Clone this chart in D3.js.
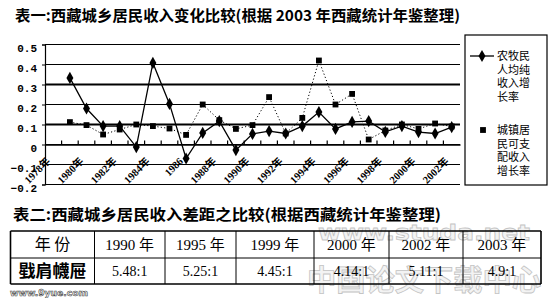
<!DOCTYPE html>
<html>
<head>
<meta charset="utf-8">
<script src="https://cdn.jsdelivr.net/npm/d3@7"></script>
<style>
  body { margin: 0; background: #fff; }
  svg { display: block; }
</style>
</head>
<body>
<div id="chart"></div>
<script>
// chart data
const years = ["1978","1979","1980","1981","1982","1983","1984","1985","1986","1987","1988","1989",
  "1990","1991","1992","1993","1994","1995","1996","1997","1998","1999","2000","2001","2002"];
const tickLabels = ["1978年","1980年","1982年","1984年","1986","1988年","1990年","1992年",
  "1994年","1996年","1998年","2000年","2002年"];
const farmGrowth = [null,0.333,0.18,0.092,0.092,-0.013,0.408,0.203,-0.07,0.058,0.117,-0.028,
  0.053,0.067,0.055,0.092,0.162,0.078,0.113,0.117,0.063,0.092,0.062,0.055,0.087];
const urbanGrowth = [null,0.112,0.097,0.05,0.075,0.1,0.092,0.08,0.048,0.2,0.122,0.078,
  0.097,0.237,0.055,0.133,0.42,0.2,0.253,0.025,0.07,0.1,0.078,0.105,0.09];
const yTicks = [0.5,0.4,0.3,0.2,0.1,0,-0.1,-0.2];
const farmLegend = ["农牧民","人均纯","收入增","长率"];
const urbanLegend = ["城镇居","民可支","配收入","增长率"];

// table 2
const tableYears = ["1990 年","1995 年","1999 年","2000 年","2002 年","2003 年"];
const tableRatios = ["5.48:1","5.25:1","4.45:1","4.14:1","5.11:1","4.9:1"];

const W = 550, H = 298;
const svg = d3.select("#chart").append("svg").attr("width", W).attr("height", H);

const cjk = "'Noto Sans CJK SC', sans-serif";
const serif = "'Liberation Serif', 'Noto Sans CJK SC', serif";

// title 1
svg.append("text")
  .attr("x", 15).attr("y", 21)
  .attr("textLength", 445).attr("lengthAdjust", "spacingAndGlyphs")
  .style("font-family", cjk).style("font-size", "15px").style("font-weight", "bold")
  .text("表一:西藏城乡居民收入变化比较(根据 2003 年西藏统计年鉴整理)");

// plot area
var plot = { left: 45, right: 460, top: 44.5, bottom: 184.5 };
var x = d3.scaleBand().domain(years).range([plot.left, plot.right]);
var y = d3.scaleLinear().domain([-0.2, 0.5]).range([plot.bottom, plot.top]);
var cx = function (d) { return x(d) + x.bandwidth() / 2; };

// grid lines
svg.append("g").selectAll("line")
  .data(yTicks)
  .enter().append("line")
  .attr("x1", plot.left).attr("x2", plot.right)
  .attr("y1", d => y(d)).attr("y2", d => y(d))
  .attr("stroke", "#000")
  .attr("stroke-width", d => (Math.abs(d - 0.3) < 1e-9 || Math.abs(d - 0.1) < 1e-9) ? 2 : 1.2);

// y axis
var yAxis = svg.append("g")
  .attr("transform", "translate(" + plot.left + ",0)")
  .call(d3.axisLeft(y).tickValues(yTicks).tickSize(3).tickFormat(d => d === 0 ? "0" : d3.format(".1f")(d)));
yAxis.select(".domain").attr("stroke", "#000").attr("stroke-width", 1.2);
yAxis.selectAll("text")
  .attr("x", -8).attr("dy", "0.6em")
  .style("font-family", "'Liberation Mono', monospace").style("font-size", "11px").style("font-weight", "bold");

// x axis on the zero line
var xAxis = svg.append("g")
  .attr("transform", "translate(0," + y(0) + ")")
  .call(d3.axisBottom(x)
    .tickValues(years.filter((d, i) => i % 2 === 0))
    .tickFormat((d, i) => tickLabels[i])
    .tickSize(0));
xAxis.select(".domain").attr("stroke", "#000").attr("stroke-width", 1.5);
xAxis.selectAll("text")
  .attr("x", -14).attr("y", 7).attr("dy", "0.35em")
  .attr("transform", "rotate(-45)")
  .style("text-anchor", "end")
  .style("font-family", serif).style("font-size", "10.5px").style("font-weight", "bold");

// tick marks between categories, pointing up
svg.append("g").selectAll("line")
  .data(years.slice(1))
  .enter().append("line")
  .attr("x1", d => x(d)).attr("x2", d => x(d))
  .attr("y1", y(0)).attr("y2", y(0) - 4)
  .attr("stroke", "#000").attr("stroke-width", 1.2);

// series
var farmPts = years.map((d, i) => ({ year: d, v: farmGrowth[i] })).filter(d => d.v !== null);
var urbanPts = years.map((d, i) => ({ year: d, v: urbanGrowth[i] })).filter(d => d.v !== null);
var line = d3.line().x(d => cx(d.year)).y(d => y(d.v));

svg.append("path").datum(urbanPts)
  .attr("d", line).attr("fill", "none")
  .attr("stroke", "#000").attr("stroke-width", 1).attr("stroke-dasharray", "1.2,2.2");
svg.append("path").datum(farmPts)
  .attr("d", line).attr("fill", "none")
  .attr("stroke", "#000").attr("stroke-width", 1.3);

var square = d3.symbol().type(d3.symbolSquare).size(34);
var diamond = d3.symbol().type(d3.symbolDiamond).size(42);

svg.append("g").selectAll("path")
  .data(urbanPts)
  .enter().append("path")
  .attr("d", square)
  .attr("transform", d => "translate(" + cx(d.year) + "," + y(d.v) + ")")
  .attr("fill", "#000");
svg.append("g").selectAll("path")
  .data(farmPts)
  .enter().append("path")
  .attr("d", diamond)
  .attr("transform", d => "translate(" + cx(d.year) + "," + y(d.v) + ")")
  .attr("fill", "#000");

// legend
var legend = svg.append("g");
legend.append("rect")
  .attr("x", 465).attr("y", 35).attr("width", 82).attr("height", 150)
  .attr("fill", "#fff").attr("stroke", "#000").attr("stroke-width", 1.2);
legend.append("line")
  .attr("x1", 470).attr("x2", 494).attr("y1", 56).attr("y2", 56)
  .attr("stroke", "#000").attr("stroke-width", 1.3);
legend.append("path").attr("d", diamond).attr("transform", "translate(482,56)");
legend.append("path").attr("d", square).attr("transform", "translate(483,130)");
legend.selectAll("text.farm")
  .data(farmLegend)
  .enter().append("text")
  .attr("class", "farm")
  .attr("x", 497).attr("y", (d, i) => 60 + i * 13.5)
  .style("font-family", cjk).style("font-size", "11px")
  .text(d => d);
legend.selectAll("text.urban")
  .data(urbanLegend)
  .enter().append("text")
  .attr("class", "urban")
  .attr("x", 497).attr("y", (d, i) => 134 + i * 13.5)
  .style("font-family", cjk).style("font-size", "11px")
  .text(d => d);

// title 2
svg.append("text")
  .attr("x", 13).attr("y", 220)
  .attr("textLength", 428).attr("lengthAdjust", "spacingAndGlyphs")
  .style("font-family", cjk).style("font-size", "15px").style("font-weight", "bold")
  .text("表二:西藏城乡居民收入差距之比较(根据西藏统计年鉴整理)");

// watermark
svg.append("text")
  .attr("x", 318).attr("y", 240)
  .attr("textLength", 212).attr("lengthAdjust", "spacingAndGlyphs")
  .style("font-family", "'DejaVu Sans', sans-serif").style("font-size", "22px").style("font-weight", "bold")
  .attr("fill", "#f3f3f3").attr("stroke", "#c4c4c4").attr("stroke-width", 0.8)
  .text("www.studa.net");
svg.append("text")
  .attr("x", 307).attr("y", 291)
  .attr("textLength", 234).attr("lengthAdjust", "spacingAndGlyphs")
  .style("font-family", cjk).style("font-size", "29px").style("font-weight", "bold")
  .attr("fill", "#f3f3f3").attr("stroke", "#c4c4c4").attr("stroke-width", 0.8)
  .text("中国论文下载中心");

// table
var cols = [10.5, 94.5, 165, 236, 314, 389, 463, 541];
var rows = [231, 258, 284];
var table = svg.append("g");
rows.forEach(function (r) {
  table.append("line").attr("x1", cols[0]).attr("x2", cols[cols.length - 1])
    .attr("y1", r).attr("y2", r).attr("stroke", "#000").attr("stroke-width", r === rows[1] ? 1 : 1.6);
});
cols.forEach(function (c, i) {
  table.append("line").attr("x1", c).attr("x2", c)
    .attr("y1", rows[0]).attr("y2", rows[2]).attr("stroke", "#000")
    .attr("stroke-width", (i === 0 || i === cols.length - 1) ? 1.6 : 1);
});
var mid = i => (cols[i] + cols[i + 1]) / 2;

table.append("text")
  .attr("x", mid(0)).attr("y", 250).attr("text-anchor", "middle")
  .style("font-family", cjk).style("font-size", "16px")
  .text("年 份");
table.append("text")
  .attr("x", mid(0)).attr("y", 277).attr("text-anchor", "middle")
  .style("font-family", cjk).style("font-size", "17px").style("font-weight", "bold")
  .text("戥肩幭屉");
table.selectAll("text.yr")
  .data(tableYears)
  .enter().append("text")
  .attr("class", "yr")
  .attr("x", (d, i) => mid(i + 1)).attr("y", 250).attr("text-anchor", "middle")
  .style("font-family", serif).style("font-size", "15px")
  .text(d => d);
table.selectAll("text.ratio")
  .data(tableRatios)
  .enter().append("text")
  .attr("class", "ratio")
  .attr("x", (d, i) => mid(i + 1)).attr("y", 276).attr("text-anchor", "middle")
  .style("font-family", serif).style("font-size", "14px")
  .text(d => d);

// small site mark
svg.append("text")
  .attr("x", 10).attr("y", 296)
  .attr("textLength", 78).attr("lengthAdjust", "spacingAndGlyphs")
  .style("font-family", "'DejaVu Sans', sans-serif").style("font-size", "9px").style("font-weight", "bold")
  .attr("fill", "#fff").attr("stroke", "#444").attr("stroke-width", 0.6)
  .text("www.9yue.com");
</script>
</body>
</html>
